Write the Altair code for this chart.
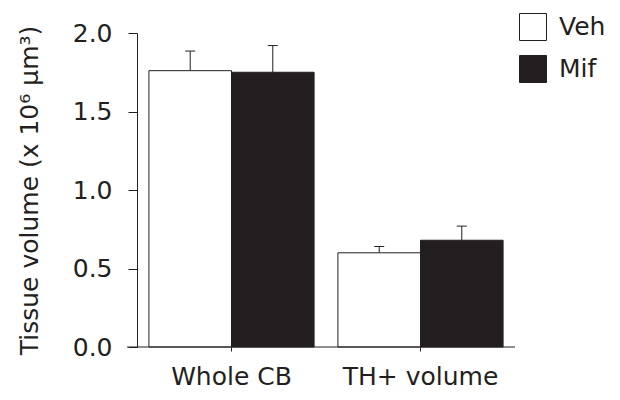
import altair as alt
import pandas as pd

categories = ["Whole CB", "TH+ volume"]
groups = ["Veh", "Mif"]
veh_means = [1.76, 0.60]
veh_errs = [0.125, 0.04]
mif_means = [1.75, 0.68]
mif_errs = [0.17, 0.09]
y_ticks = [0.0, 0.5, 1.0, 1.5, 2.0]

rows = []
for i, c in enumerate(categories):
    rows.append({"category": c, "group": "Veh", "mean": veh_means[i], "top": veh_means[i] + veh_errs[i]})
    rows.append({"category": c, "group": "Mif", "mean": mif_means[i], "top": mif_means[i] + mif_errs[i]})
df = pd.DataFrame(rows)

FONT = "DejaVu Sans"
INK = "#231f20"
FS = 25
W, H = 378, 314

base = alt.Chart(df).encode(
    x=alt.X("category:N", sort=categories,
            scale=alt.Scale(paddingInner=0.126, paddingOuter=0.063),
            axis=alt.Axis(title=None, domain=False, tickSize=4, tickColor=INK,
                          labelFontSize=FS, labelFont=FONT, labelColor=INK,
                          labelPadding=13, labelAngle=0)),
    xOffset=alt.XOffset("group:N", sort=groups,
                        scale=alt.Scale(paddingInner=0, paddingOuter=0)),
)

bars = base.mark_bar(stroke=INK, strokeWidth=1).encode(
    y=alt.Y("mean:Q", scale=alt.Scale(domain=[0, 2]),
            axis=alt.Axis(values=y_ticks, format=".1f", tickSize=9, grid=False,
                          domainColor=INK, tickColor=INK, labelColor=INK,
                          labelFontSize=FS, labelFont=FONT, labelPadding=16,
                          title="Tissue volume (x 10⁶ µm³)", titleFont=FONT,
                          titleFontSize=FS, titleFontWeight="normal",
                          titleColor=INK, titlePadding=30)),
    color=alt.Color("group:N", sort=groups,
                    scale=alt.Scale(domain=groups, range=["white", INK]),
                    legend=alt.Legend(title=None, orient="none", legendX=382, legendY=-20,
                                      symbolType="square", symbolSize=729,
                                      symbolStrokeColor=INK, symbolStrokeWidth=1,
                                      symbolOpacity=1,
                                      labelFontSize=FS, labelFont=FONT, labelColor=INK,
                                      labelOffset=12, rowPadding=10)),
)

errs = base.mark_rule(color=INK, strokeWidth=1).encode(y="mean:Q", y2="top:Q")
caps = base.mark_tick(color=INK, size=10, thickness=1, opacity=1).encode(y="top:Q")

xline = alt.Chart(pd.DataFrame({"a": [0]})).mark_rule(color=INK, strokeWidth=1).encode(
    x=alt.value(-10), x2=alt.value(W), y=alt.value(H)
)

chart = alt.layer(bars, errs, caps, xline).properties(
    width=W, height=H,
    autosize=alt.AutoSizeParams(type="none"),
    padding={"left": 129, "top": 25, "right": 97, "bottom": 45},
).configure_view(stroke=None)

chart.save("out.html", embed_options={"renderer": "svg", "actions": False})
